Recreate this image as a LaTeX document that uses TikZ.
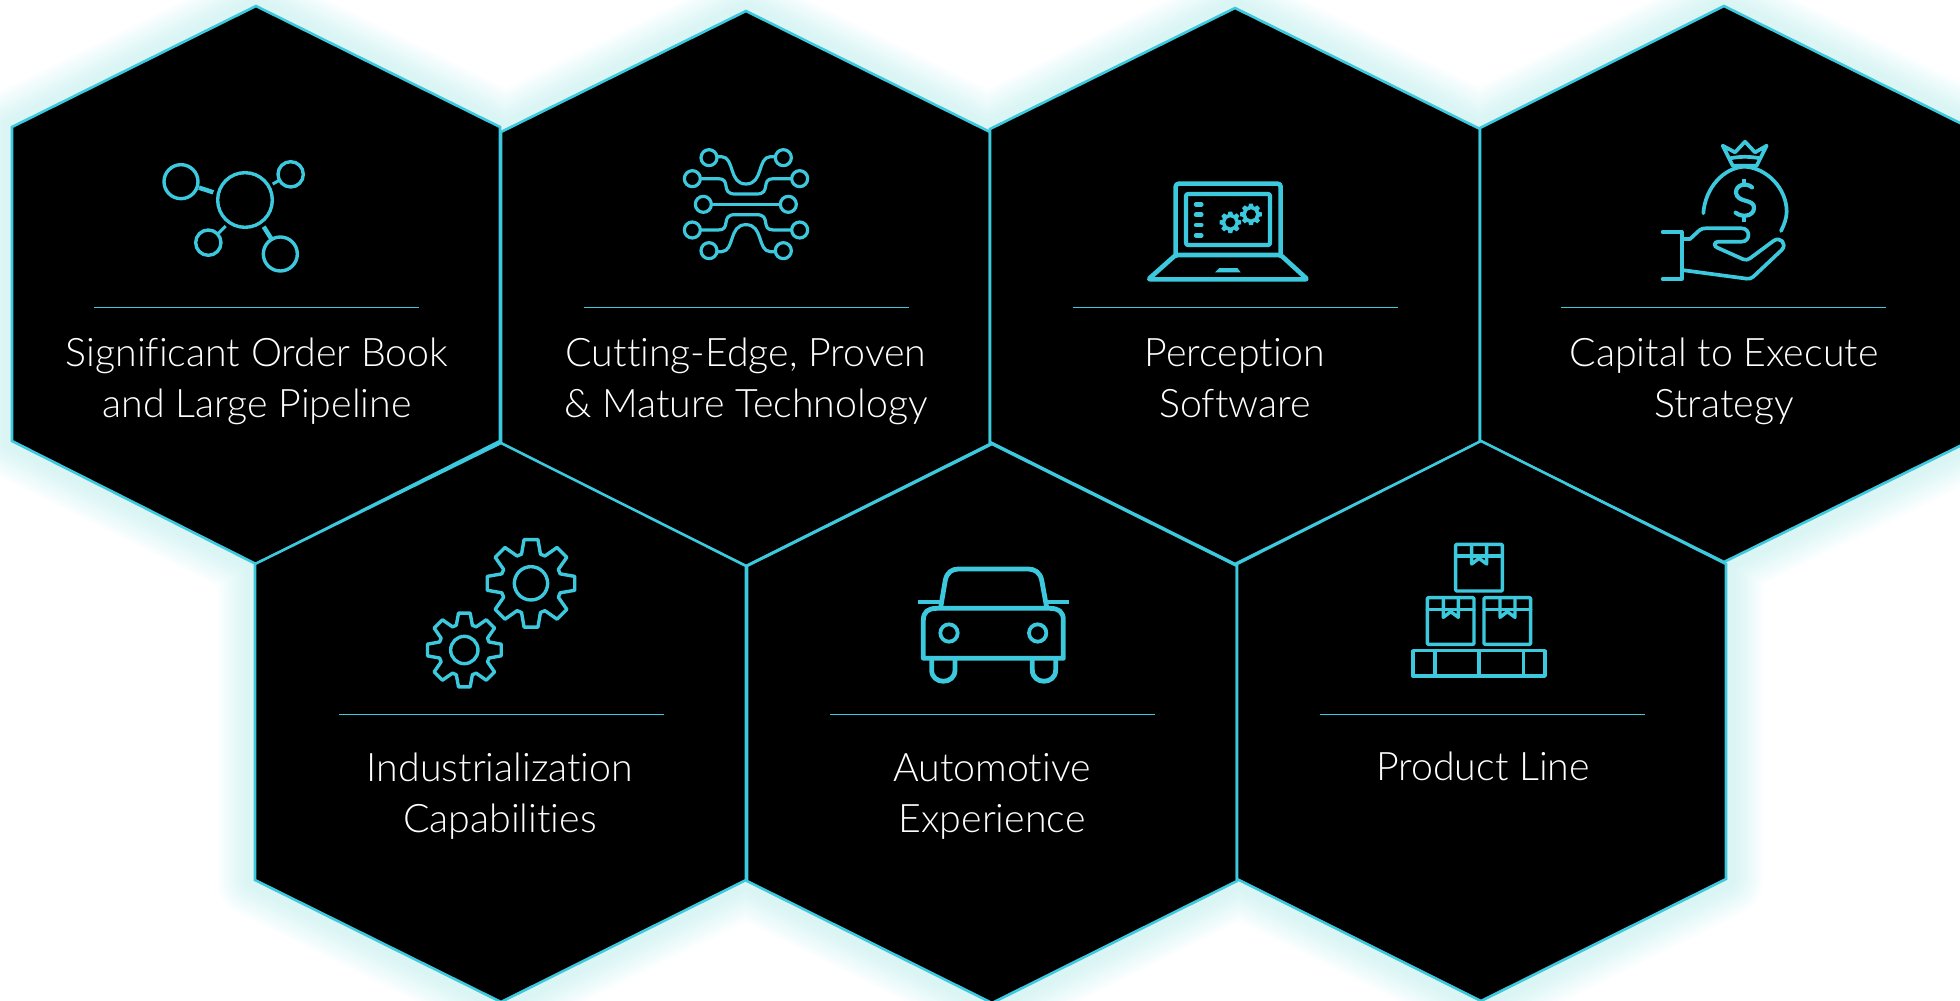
\documentclass[tikz,border=0pt]{standalone}
\usepackage{fontspec}
\setmainfont[Ligatures=NoCommon]{Lato Light}
\definecolor{cy}{HTML}{3CC9DE}
\definecolor{glow}{HTML}{4FD6F0}
\def\allhex{(256,6)--(500,127)--(500,441)--(256,564)--(12,441)--(12,127)--cycle
 (746,11)--(990,132)--(990,444)--(746,566)--(501,444)--(501,132)--cycle
 (1235,8)--(1480,129)--(1480,442)--(1235,564)--(990,442)--(990,129)--cycle
 (1724,6)--(1970,128)--(1970,441)--(1724,562)--(1480,441)--(1480,128)--cycle
 (501,443)--(746,566)--(746,880)--(501,1002)--(255,880)--(255,564)--cycle
 (992,444)--(1237,566)--(1237,881)--(992,1003)--(747,881)--(747,566)--cycle
 (1481,441)--(1726,564)--(1726,879)--(1481,1001)--(1237,879)--(1237,564)--cycle}
\newcommand{\gearshape}[5]{% cx cy tip valley hub (zoom units), in current scope
 \draw[icon] (#1,#2) ++(-18-90:#4)
  \foreach \a in {-90,-45,0,45,90,135,180,225}{
   -- ($(#1,#2)+(\a-18:#4)$) -- ($(#1,#2)+(\a-9:#3)$) -- ($(#1,#2)+(\a+9:#3)$) -- ($(#1,#2)+(\a+18:#4)$)
  } -- cycle;
 \draw[icon] (#1,#2) circle (#5);}
\newcommand{\minigear}[2]{%
 \fill[cy] (#1,#2) ++(-108:25)
  \foreach \a in {-90,-45,0,45,90,135,180,225}{
   -- ($(#1,#2)+(\a-18:25)$) -- ($(#1,#2)+(\a-10:33)$) -- ($(#1,#2)+(\a+10:33)$) -- ($(#1,#2)+(\a+18:25)$)
  } -- cycle;
 \fill[black] (#1,#2) circle (15);}
\newcommand{\boxicon}[3]{% left top tagx
 \draw[icon,line width=3.4pt,rounded corners=1pt] (#1,#2) rectangle ++(140,140);
 \draw[icon,line width=3.4pt] (#1,#2+35) -- ++(140,0);
 \draw[icon,line width=3.4pt] (#3,#2) -- ++(0,59) -- ++(22,-17) -- ++(23,17) -- ++(0,-59);}
\usetikzlibrary{calc}
\tikzset{
 x=1pt,y=-1pt,
 hexa/.style={fill=black,draw=cy,line width=2.6pt,line join=miter},
 sep/.style={draw=cy,line width=1pt},
 icon/.style={draw=cy,line width=3.4pt,line join=round,line cap=round},
 lab/.style={text=white,align=center,inner sep=0pt,font=\fontsize{39.3}{51}\selectfont},
 z/.style={shift={(#1)},scale=0.33333},
}
\begin{document}
\begin{tikzpicture}
\useasboundingbox (0,0) rectangle (1960,1001);
\fill[white] (0,0) rectangle (1960,1001);
% glow
\foreach \w in {10,13,...,37}{
 \draw[glow,line width=2*\w pt,opacity=0.019,line join=round] \allhex;
}
% hexagons
\draw[hexa] (256,6)--(500,127)--(500,441)--(256,564)--(12,441)--(12,127)--cycle;
\draw[hexa] (746,11)--(990,132)--(990,444)--(746,566)--(501,444)--(501,132)--cycle;
\draw[hexa] (1235,8)--(1480,129)--(1480,442)--(1235,564)--(990,442)--(990,129)--cycle;
\draw[hexa] (1724,6)--(1970,128)--(1970,441)--(1724,562)--(1480,441)--(1480,128)--cycle;
\draw[hexa] (501,443)--(746,566)--(746,880)--(501,1002)--(255,880)--(255,564)--cycle;
\draw[hexa] (992,444)--(1237,566)--(1237,881)--(992,1003)--(747,881)--(747,566)--cycle;
\draw[hexa] (1481,441)--(1726,564)--(1726,879)--(1481,1001)--(1237,879)--(1237,564)--cycle;
% separators
\draw[sep] (94,307)--(419,307);
\draw[sep] (584,307)--(909,307);
\draw[sep] (1073,307)--(1398,307);
\draw[sep] (1561,307)--(1886,307);
\draw[sep] (339,714)--(664,714);
\draw[sep] (830,714)--(1155,714);
\draw[sep] (1320,714)--(1645,714);
% labels
\node[lab] (t1) at (257,382) {\strut Significant Order Book\\\strut and Large Pipeline};
\node[lab] (t2) at (746,382) {\strut Cutting-Edge, Proven\\\strut \& Mature Technology};
\node[lab] (t3) at (1235,382) {\strut Perception\\\strut Software};
\node[lab] (t4) at (1724,382) {\strut Capital to Execute\\\strut Strategy};
\node[lab] (t5) at (500,796.5) {\strut Industrialization\\\strut Capabilities};
\node[lab] (t6) at (992,796.5) {\strut Automotive\\\strut Experience};
\node[lab] (t7) at (1483,770.5) {\strut Product Line};
% icon 1: network
\begin{scope}[z={0,0}]
 \draw[icon,line cap=butt] (735,600) circle (82);
 \draw[icon,line cap=butt] (543,545) circle (51);
 \draw[icon,line cap=butt] (872,523) circle (38);
 \draw[icon,line cap=butt] (625,728) circle (38);
 \draw[icon,line cap=butt] (841,762) circle (51);
 \draw[icon,line cap=butt,line width=4.5pt] (597,563)--(640,577);
 \draw[icon,line cap=butt,line width=3pt] (818,552)--(840,540);
 \draw[icon,line cap=butt,line width=3pt] (677,678)--(655,700);
 \draw[icon,line cap=butt,line width=4.5pt] (791,680)--(815,718);
\end{scope}
% icon 2: circuit
\begin{scope}[z={640,120}]
 \foreach \cx/\cy in {207/113,430/113,157/176,479/176,190/253,445/253,157/330,479/330,207/392,430/392}{
  \draw[icon,line width=3.2pt] (\cx,\cy) circle (24);
 }
 \draw[icon,line width=3.2pt] (232,110) -- (245,110) .. controls (285,112) and (265,192) .. (318,192) .. controls (371,192) and (351,112) .. (391,110) -- (405,110);
 \draw[icon,line width=3.2pt] (182,176) -- (235,176) .. controls (275,176) and (240,222) .. (285,222) -- (350,222) .. controls (395,222) and (360,176) .. (400,176) -- (454,176);
 \draw[icon,line width=3.2pt] (215,253) -- (420,253);
 \draw[icon,line width=3.2pt] (182,330) -- (235,330) .. controls (275,330) and (240,284) .. (285,284) -- (350,284) .. controls (395,284) and (360,330) .. (400,330) -- (454,330);
 \draw[icon,line width=3.2pt] (232,395) -- (245,395) .. controls (285,393) and (265,314) .. (318,314) .. controls (371,314) and (351,393) .. (391,395) -- (405,395);
\end{scope}
% icon 3: laptop
\begin{scope}[z={1130,160}]
 \draw[icon,line width=4.6pt,rounded corners=3pt] (137,285) -- (137,71) -- (452,71) -- (452,285);
 \draw[icon,line width=4.6pt,rounded corners=2pt] (55,358) -- (137,285) -- (452,285) -- (532,358) -- cycle;
 \draw[icon,line width=4.2pt,rounded corners=2pt] (168,102) rectangle (420,255);
 \foreach \yy in {133,164,195,226}{\draw[icon,line width=4.5pt] (198,\yy)--(214,\yy);}
 \fill[cy] (255,337)--(332,337)--(322,324)--(268,324)--cycle;
 \minigear{301}{187}
 \minigear{363}{163}
\end{scope}
% icon 4: money bag and hand
\begin{scope}[z={1640,125}]
 \tikzset{icon/.append style={line width=3.7pt}}
 \draw[icon] (248,62)--(285,82)--(315,50)--(345,82)--(380,62)--(350,122)--(278,122)--cycle;
 \draw[icon] (270,100) .. controls (300,94) and (330,94) .. (360,100);
 \draw[icon] (190,265) .. controls (195,190) and (250,128) .. (313,125) .. controls (380,128) and (440,190) .. (440,260) .. controls (440,280) and (432,300) .. (423,318);
 \draw[icon,line width=4.2pt] (336,187) .. controls (320,172) and (287,178) .. (288,203) .. controls (290,235) and (345,220) .. (342,250) .. controls (340,275) and (305,278) .. (287,263);
 \draw[icon,line cap=butt,line width=4.2pt] (313,162)--(313,178);
 \draw[icon,line cap=butt,line width=4.2pt] (313,275)--(313,292);
 \draw[icon] (68,321)--(125,321)--(125,462)--(68,462);
 \draw[icon] (125,342)--(150,342)--(178,316) .. controls (184,311) and (190,310) .. (197,310) -- (305,310) .. controls (332,310) and (332,350) .. (305,350) -- (235,350) .. controls (222,350) and (220,364) .. (232,368) -- (310,403) .. controls (318,406) and (324,404) .. (330,400) -- (400,348) .. controls (422,332) and (442,358) .. (425,375) -- (340,455) .. controls (333,461) and (328,462) .. (320,461) -- (125,435);
\end{scope}
% icon 5: gears
\begin{scope}[z={410,525}]
 \gearshape{363}{175}{133}{92}{50}
 \gearshape{163}{375}{112}{78}{41}
\end{scope}
% icon 6: car
\begin{scope}[z={900,550}]
 \tikzset{icon/.append style={line width=4.8pt,line cap=butt}}
 \draw[icon] (70,325) -- (70,210) .. controls (70,185) and (85,175) .. (110,175) -- (450,175) .. controls (475,175) and (490,185) .. (490,210) -- (490,325) -- cycle;
 \draw[icon] (95,325) -- (95,360) .. controls (95,405) and (165,405) .. (165,360) -- (165,325);
 \draw[icon] (397,325) -- (397,360) .. controls (397,405) and (467,405) .. (467,360) -- (467,325);
 \draw[icon] (122,172) -- (136,90) .. controls (141,68) and (155,57) .. (175,57) -- (385,57) .. controls (405,57) and (420,68) .. (425,90) -- (440,172);
 \draw[icon] (55,156)--(122,156);
 \draw[icon] (440,156)--(507,156);
 \draw[icon,line width=3.8pt] (147,249) circle (26);
 \draw[icon,line width=3.8pt] (413,249) circle (26);
\end{scope}
% icon 7: boxes
\begin{scope}[z={1390,530}]
 \boxicon{197}{43}{245}
 \boxicon{112}{203}{160}
 \boxicon{282}{203}{330}
 \draw[icon,line width=3.4pt] (69,362) rectangle (465,438);
 \draw[icon,line width=3.4pt] (135,362)--(135,438);
 \draw[icon,line width=3.4pt] (267,362)--(267,438);
 \draw[icon,line width=3.4pt] (400,362)--(400,438);
\end{scope}
\end{tikzpicture}
\end{document}
